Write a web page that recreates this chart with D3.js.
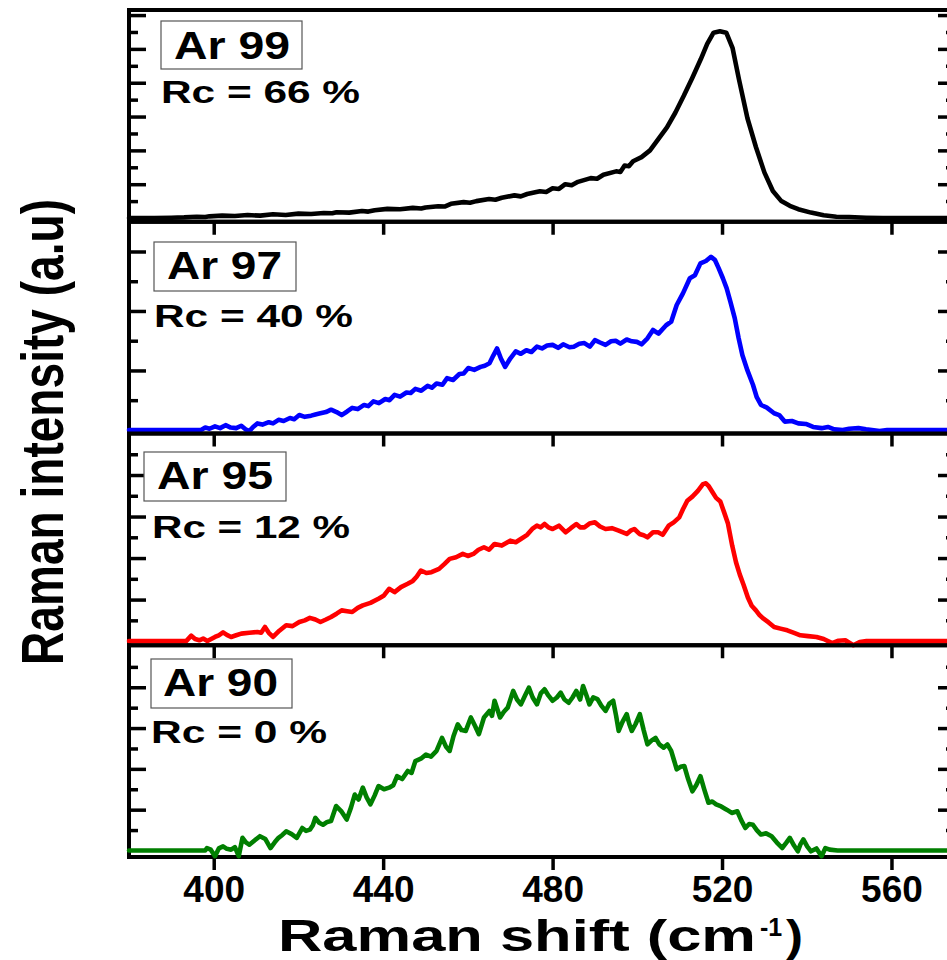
<!DOCTYPE html>
<html>
<head>
<meta charset="utf-8">
<script src="https://cdn.jsdelivr.net/npm/d3@7"></script>
<style>
  body { margin: 0; background: #fff; }
  svg { display: block; }
  text { font-family: "Liberation Sans", Arial, sans-serif; font-weight: bold; fill: #000; }
</style>
</head>
<body>
<div id="chart"></div>
<script>
var width = 947, height = 960;
var plotLeft = 129, plotRight = 955, plotTop = 10, panelH = 211.75;

// x axis
var shiftDomain = [380, 575];
var shiftTicks = [400, 440, 480, 520, 560];

// sample labels
var samples = ["Ar 99", "Ar 97", "Ar 95", "Ar 90"];
var crystallinity = ["Rc = 66 %", "Rc = 40 %", "Rc = 12 %", "Rc = 0 %"];
var lineColors = ["#000000", "#0000ff", "#ff0000", "#007f00"];

// intensity range (a.u) of each panel, top to bottom
var yRanges = [[-0.11, 6.15], [-0.06, 3.50], [-0.10, 5.0], [-0.16, 5.03]];
var yMajors = [[1, 2, 3, 4, 5, 6], [1, 2, 3], [1, 2, 3, 4], [1, 2, 3, 4]];
var yMinors = [[0.5, 1.5, 2.5, 3.5, 4.5, 5.5], [0.5, 1.5, 2.5], [0.5, 1.5, 2.5, 3.5, 4.5], [0.5, 1.5, 2.5, 3.5, 4.5]];

// spectra: [Raman shift, intensity]
var ar99 = [[380,0],[386,0],[390,0.01],[393,0.02],[396,0.04],[398,0.03],[399,0.05],[402,0.07],[405,0.06],[408,0.09],[411,0.07],
  [414,0.11],[417,0.09],[420,0.13],[423,0.12],[426,0.15],[428,0.14],[429,0.17],[432,0.16],[435,0.21],[436.5,0.19],[438,0.23],[441,0.27],
  [444,0.26],[447,0.30],[449,0.28],[450,0.31],[453,0.35],[454.5,0.34],[456,0.42],[459,0.47],[460.5,0.45],[462,0.50],[465,0.56],[466.5,0.54],
  [468,0.60],[471,0.67],[472.5,0.64],[474,0.71],[477,0.79],[478.5,0.77],[480,0.88],[481.5,0.86],[483,1.00],[484.5,0.97],[486,1.07],
  [489,1.18],[490.5,1.16],[492,1.28],[495,1.38],[496,1.36],[497,1.55],[498,1.53],[499,1.68],
  [501,1.80],[503,2.00],[505,2.34],[507,2.68],[509,3.12],[511,3.62],[513,4.15],[515,4.70],[516.5,5.15],[518,5.48],
  [519.5,5.52],[521,5.48],[522.5,5.02],[524,4.10],[526,2.95],[528,2.10],[530,1.35],[532,0.80],[534,0.50],[536,0.36],
  [538,0.26],[541,0.16],[544,0.08],[547,0.04],[550,0.03],[554,0.01],[558,0],[575,0]];

var ar97 = [[380,0],[390,0],[397,0],[398,0.04],[399,0.02],[400.3,0.06],[401.5,0.03],[402.8,0.08],[404,0.04],[405.3,0.03],
  [406.5,0.07],[407.5,0.01],[408.4,-0.02],[409.3,0.05],[410.3,0.11],[411.5,0.09],[413,0.13],[414,0.11],[415.3,0.17],[416.5,0.15],
  [418,0.20],[419,0.18],[420.2,0.25],[421.5,0.22],[423,0.24],[424,0.26],[425.2,0.28],[426.5,0.30],[427.7,0.34],[429,0.30],
  [430.2,0.25],[431.5,0.31],[432.7,0.37],[434,0.35],[435.5,0.42],[436.5,0.40],[437.7,0.48],[439,0.45],[440.5,0.52],[441.5,0.50],
  [442.7,0.59],[444,0.56],[445.5,0.63],[446.5,0.62],[447.6,0.69],[449,0.66],[450.5,0.74],[451.5,0.71],[452.6,0.78],[454,0.76],
  [455.1,0.87],[456.5,0.84],[458,0.94],[459,0.95],[460.1,1.04],[461.5,1.01],[463,1.06],[464,1.08],[465.1,1.12],[466,1.25],
  [466.9,1.37],[467.8,1.20],[468.8,1.06],[470,1.20],[471.3,1.32],[472.5,1.28],[473.8,1.34],[475,1.31],[476.3,1.40],[477.5,1.37],
  [478.7,1.42],[480,1.43],[481.3,1.38],[482.5,1.44],[484,1.39],[485,1.40],[486.3,1.45],[487.5,1.46],[488.8,1.40],[490,1.51],
  [491.2,1.47],[492.5,1.43],[493.8,1.49],[494.9,1.50],[496,1.45],[497.5,1.52],[498.7,1.49],[499.9,1.48],[501,1.44],[502.4,1.54],
  [503.7,1.68],[505,1.62],[506.8,1.76],[508,1.82],[509.3,2.10],[510.8,2.30],[512.4,2.55],[513.6,2.60],[514.9,2.80],[516.2,2.84],
  [517.4,2.91],[518.3,2.86],[519.2,2.72],[520.2,2.55],[521.1,2.38],[522,2.15],[523,1.88],[523.9,1.55],[524.8,1.26],[526,1.00],
  [527.3,0.76],[528.2,0.55],[529.2,0.42],[530.5,0.38],[532.3,0.28],[533.5,0.25],[534.8,0.14],[536.5,0.15],[538,0.11],[539.8,0.10],
  [541.5,0.05],[543.5,0.03],[545,0.05],[546.5,0.01],[548.5,0],[550,0.02],[552.2,0.03],[554,0.01],[557.2,-0.02],[559,0],[575,0]];

var ar95 = [[380,0],[393.5,0],[394.7,0.13],[395.6,0.05],[396.6,0.02],[397.5,0.06],[398.5,0],[399.4,0.05],[400.3,0.10],[401.2,0.14],
  [402.2,0.21],[403.1,0.15],[404.1,0.10],[405.3,0.14],[406.5,0.18],[408.4,0.20],[410.3,0.22],[411.2,0.20],[412.1,0.34],[413,0.20],
  [414,0.10],[415.5,0.25],[417.1,0.38],[418.6,0.36],[420.2,0.46],[421.5,0.50],[422.7,0.56],[424,0.52],[425.2,0.46],[426.5,0.52],
  [427.7,0.58],[429,0.66],[430.2,0.74],[431.5,0.72],[432.7,0.70],[434,0.80],[435.2,0.86],[437,0.92],[438.9,1.02],[440.2,1.10],
  [441.4,1.26],[442.7,1.18],[444.2,1.30],[445.8,1.38],[447,1.45],[447.9,1.55],[448.9,1.70],[450.2,1.64],[451.4,1.66],[453.2,1.74],
  [454.5,1.86],[455.7,1.98],[457.2,2.02],[458.8,2.10],[460,2.05],[461.3,2.10],[462.5,2.20],[463.8,2.26],[465,2.20],[466.3,2.34],
  [468,2.30],[470,2.42],[471.3,2.38],[472.5,2.46],[474,2.56],[475.2,2.70],[476.3,2.78],[477.2,2.74],[478.1,2.82],[479,2.74],
  [480,2.70],[481.5,2.78],[483.1,2.62],[484.3,2.72],[485.6,2.82],[486.5,2.74],[487.5,2.74],[488.7,2.83],[490,2.86],[491.2,2.76],
  [492.5,2.70],[494,2.72],[495.6,2.66],[497.5,2.58],[498.4,2.66],[499.3,2.70],[500.5,2.58],[501.5,2.55],[502.4,2.50],[503.7,2.62],
  [504.9,2.62],[506,2.56],[507.4,2.78],[508.6,2.86],[509.9,2.98],[510.8,3.18],[511.8,3.38],[513,3.48],[514.3,3.62],[515.5,3.78],
  [516.2,3.80],[516.8,3.74],[517.8,3.58],[518.6,3.45],[519.6,3.36],[520.5,3.10],[521.4,2.83],[522.4,2.30],[523.3,1.90],[524.2,1.60],
  [525.1,1.35],[526.1,1.05],[527,0.85],[528,0.74],[528.9,0.62],[529.8,0.54],[531,0.45],[532.3,0.34],[533.8,0.30],[535.4,0.26],
  [537,0.20],[538.5,0.14],[540.3,0.12],[542.3,0.10],[544,0.05],[546,-0.05],[547.5,0.01],[549.1,0.02],[551,-0.10],[552.5,-0.02],
  [554.1,0],[575,0]];

var ar90 = [[380,0],[398,0],[398.4,0.06],[399.3,0.02],[400.3,-0.14],[401.2,0.05],[402.2,0.10],[403.1,0.04],[404.1,0.02],[405,0.08],
  [405.9,-0.14],[406.8,0.31],[407.6,0.20],[408.4,0.14],[409.7,0.25],[410.9,0.35],[412.2,0.28],[413.4,0.06],[414.4,0.20],[415.3,0.31],
  [416.2,0.38],[417.1,0.47],[418.4,0.40],[419.6,0.31],[420.9,0.55],[421.8,0.48],[422.7,0.51],[423.4,0.62],[424,0.80],[424.9,0.68],
  [425.8,0.63],[426.8,0.70],[427.7,0.72],[428.9,1.09],[430.2,0.95],[431.4,0.76],[432.4,1.05],[433.3,1.37],[434.2,1.25],[435.2,1.54],
  [436.1,1.30],[437,1.13],[438,1.35],[438.9,1.58],[440.2,1.50],[441.4,1.54],[442.4,1.60],[443.3,1.82],[444.5,1.75],[445.8,1.95],
  [446.7,1.90],[447.6,2.19],[448.9,2.25],[450.1,2.35],[451.3,2.30],[452.6,2.44],[453.9,2.76],[454.8,2.55],[455.7,2.44],[456.6,2.80],
  [457.6,3.09],[458.5,2.95],[459.5,2.93],[460.7,3.26],[461.7,3.05],[462.6,2.85],[463.8,3.26],[465.1,3.42],[465.7,3.30],[466.3,3.67],
  [467,3.45],[467.6,3.26],[468.5,3.40],[469.4,3.50],[470.7,3.91],[471.6,3.70],[472.5,3.58],[473.5,3.80],[474.4,3.99],[475.3,3.75],
  [476.3,3.58],[477.2,3.85],[478.1,3.95],[479,3.80],[480,3.67],[481,3.75],[481.9,3.87],[482.8,3.70],[483.8,3.62],[484.7,3.75],
  [485.6,3.91],[486.5,3.70],[487.2,4.03],[488,3.80],[488.7,3.58],[489.6,3.75],[490.6,3.71],[491.5,3.55],[492.5,3.42],[493.4,3.60],
  [494.3,3.67],[495,3.30],[495.6,2.93],[496.5,3.15],[497.5,3.34],[498.1,3.10],[498.7,2.93],[499.6,3.10],[500.6,3.34],[501.5,2.95],
  [502.4,2.60],[503.4,2.70],[504.3,2.76],[505.2,2.60],[506.2,2.52],[507.1,2.60],[508,2.44],[508.7,2.20],[509.3,1.99],[510.2,2.05],
  [511.1,2.07],[512,1.75],[513,1.45],[513.9,1.60],[514.9,1.82],[515.8,1.50],[516.8,1.17],[517.7,1.20],[518.6,1.13],[519.8,1.08],
  [521.1,1.00],[522.3,0.92],[523.6,0.96],[524.5,0.75],[525.5,0.55],[526.4,0.65],[527.3,0.63],[528.2,0.50],[529.2,0.39],[530.4,0.42],
  [531.7,0.35],[532.9,0.20],[534.2,0.06],[535.1,0.18],[536,0.31],[537,0.12],[537.9,-0.02],[538.5,0.15],[539.2,0.27],[540.1,0.10],
  [541,-0.02],[542.3,0.05],[543.5,-0.14],[544.4,0.06],[545.4,0.02],[547.3,0],[575,0]];

var spectra = [ar99, ar97, ar95, ar90];

// where the sample tag box and Rc label sit in each panel
var tagLayout = [
  {box: [161, 21, 141, 48], tx: 174, ty: 59, tw: 116, rx: 161, ry: 103, rw: 199},
  {box: [154, 242, 142, 49], tx: 167, ty: 279, tw: 115, rx: 154, ry: 327, rw: 199},
  {box: [144, 452, 142, 49], tx: 157, ty: 489, tw: 116, rx: 152, ry: 538, rw: 198},
  {box: [151, 659, 141, 49], tx: 163, ty: 696, tw: 115, rx: 151, ry: 743, rw: 176}
];

var svg = d3.select('#chart').append('svg')
  .attr('width', width)
  .attr('height', height);

var x = d3.scaleLinear().domain(shiftDomain).range([plotLeft, plotRight]);

function styleTicks(g, w) {
  g.select('.domain').remove();
  g.selectAll('.tick line').attr('stroke', '#000').attr('stroke-width', w);
}

spectra.forEach(function (data, i) {
  var top = plotTop + i * panelH;
  var bottom = top + panelH;
  var y = d3.scaleLinear().domain(yRanges[i]).range([bottom, top]);
  var panel = svg.append('g').attr('class', 'panel');

  // inward y ticks, left and right
  panel.append('g').attr('transform', 'translate(' + plotLeft + ',0)')
    .call(d3.axisLeft(y).tickValues(yMajors[i]).tickSize(-17).tickFormat(''))
    .call(styleTicks, 3.5);
  panel.append('g').attr('transform', 'translate(' + plotLeft + ',0)')
    .call(d3.axisLeft(y).tickValues(yMinors[i]).tickSize(-9).tickFormat(''))
    .call(styleTicks, 3.5);
  panel.append('g').attr('transform', 'translate(' + plotRight + ',0)')
    .call(d3.axisRight(y).tickValues(yMajors[i]).tickSize(-17).tickFormat(''))
    .call(styleTicks, 3.5);
  panel.append('g').attr('transform', 'translate(' + plotRight + ',0)')
    .call(d3.axisRight(y).tickValues(yMinors[i]).tickSize(-9).tickFormat(''))
    .call(styleTicks, 3.5);

  // outward x ticks under each panel, labels only on the last one
  var xAxis = d3.axisBottom(x).tickValues(shiftTicks).tickSize(13).tickPadding(6);
  if (i < spectra.length - 1) xAxis.tickFormat('');
  var gx = panel.append('g').attr('transform', 'translate(0,' + bottom + ')').call(xAxis).call(styleTicks, 3.5);
  gx.selectAll('text')
    .attr('fill', '#000')
    .style('font-size', '37px')
    .style('font-family', '"Liberation Sans", Arial, sans-serif')
    .style('font-weight', 'bold');

  // frame
  panel.append('rect')
    .attr('x', plotLeft).attr('y', top)
    .attr('width', plotRight - plotLeft).attr('height', panelH)
    .attr('fill', 'none').attr('stroke', '#000').attr('stroke-width', 4);

  // spectrum
  var line = d3.line().x(function (d) { return x(d[0]); }).y(function (d) { return y(d[1]); });
  panel.append('path')
    .datum(data)
    .attr('d', line)
    .attr('fill', 'none')
    .attr('stroke', lineColors[i])
    .attr('stroke-width', 4.6)
    .attr('stroke-linejoin', 'round')
    .attr('stroke-linecap', 'round');

  // sample tag
  var t = tagLayout[i];
  panel.append('rect')
    .attr('x', t.box[0]).attr('y', t.box[1])
    .attr('width', t.box[2]).attr('height', t.box[3])
    .attr('fill', '#fff').attr('stroke', '#555').attr('stroke-width', 1.2);
  panel.append('text')
    .attr('x', t.tx).attr('y', t.ty)
    .attr('textLength', t.tw).attr('lengthAdjust', 'spacingAndGlyphs')
    .style('font-size', '38px')
    .text(samples[i]);
  panel.append('text')
    .attr('x', t.rx).attr('y', t.ry)
    .attr('textLength', t.rw).attr('lengthAdjust', 'spacingAndGlyphs')
    .style('font-size', '32px')
    .text(crystallinity[i]);
});

// axis titles
var xTitle = svg.append('g').attr('class', 'x-title');
xTitle.append('text')
  .attr('x', 278).attr('y', 951)
  .attr('textLength', 478).attr('lengthAdjust', 'spacingAndGlyphs')
  .style('font-size', '45px')
  .text('Raman shift (cm');
xTitle.append('text')
  .attr('x', 760).attr('y', 936)
  .style('font-size', '25px')
  .text('-1');
xTitle.append('text')
  .attr('x', 786).attr('y', 951)
  .attr('textLength', 17).attr('lengthAdjust', 'spacingAndGlyphs')
  .style('font-size', '45px')
  .text(')');

svg.append('text')
  .attr('transform', 'translate(63,432) rotate(-90)')
  .attr('text-anchor', 'middle')
  .attr('textLength', 466).attr('lengthAdjust', 'spacingAndGlyphs')
  .style('font-size', '60px')
  .text('Raman intensity (a.u)');
</script>
</body>
</html>
